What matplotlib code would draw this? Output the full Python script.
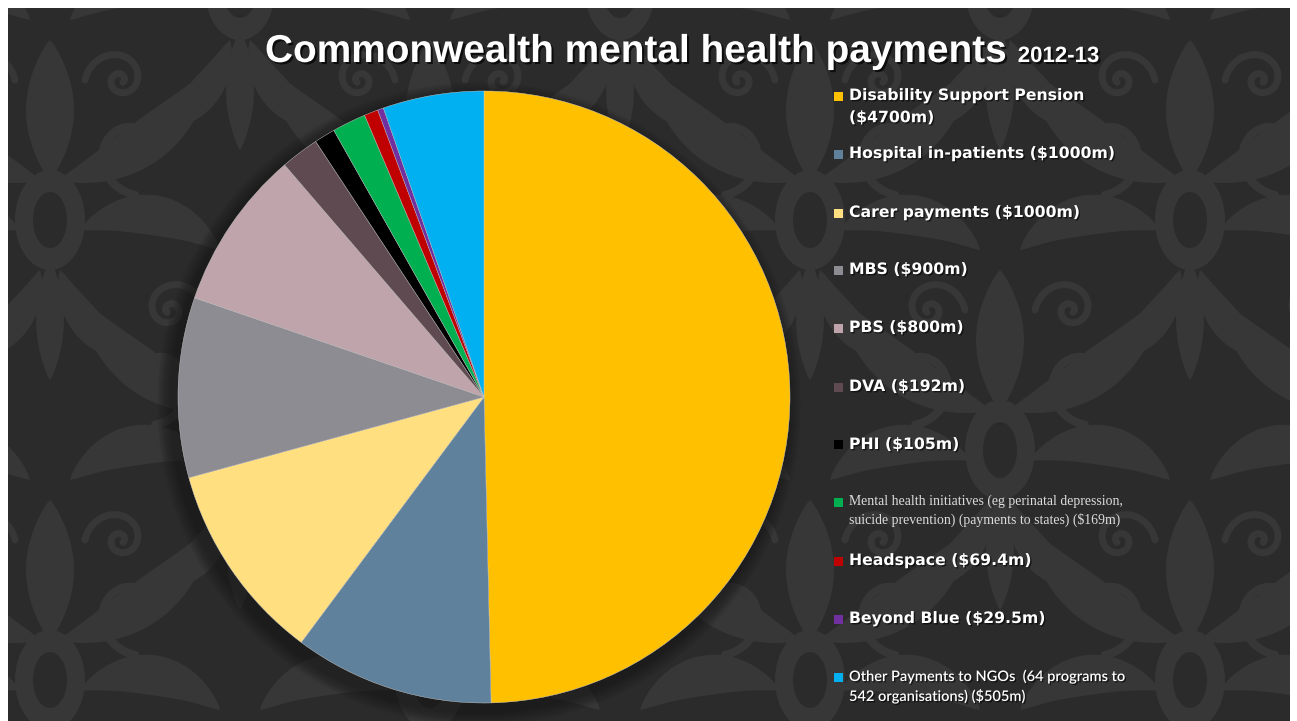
import numpy as np
import matplotlib
matplotlib.use("Agg")
import matplotlib.pyplot as plt
import matplotlib.patheffects as pe
from matplotlib.patches import Rectangle, Polygon, Ellipse, Circle

W, H = 1297, 721

# Payment categories (millions of dollars), clockwise from 12 o'clock
categories = [
    "Disability Support Pension",
    "Hospital in-patients",
    "Carer payments",
    "MBS",
    "PBS",
    "DVA",
    "PHI",
    "Mental health initiatives",
    "Headspace",
    "Beyond Blue",
    "Other Payments to NGOs",
]
values = [4700, 1000, 1000, 900, 800, 192, 105, 169, 69.4, 29.5, 505]
legend_labels = [
    "Disability Support Pension\n($4700m)",
    "Hospital in-patients ($1000m)",
    "Carer payments ($1000m)",
    "MBS ($900m)",
    "PBS ($800m)",
    "DVA ($192m)",
    "PHI ($105m)",
    "Mental health initiatives (eg perinatal depression,\nsuicide prevention) (payments to states) ($169m)",
    "Headspace ($69.4m)",
    "Beyond Blue ($29.5m)",
    "Other Payments to NGOs  (64 programs to\n542 organisations) ($505m)",
]
colors = ["#FFC000", "#5F819C", "#FFDF80", "#8E8C93", "#BFA4AB", "#604A51",
          "#000000", "#00B050", "#C00000", "#7030A0", "#00B0F0"]

BG = "#2b2b2b"
MOTIF = "#373737"


def fx(x):
    return x / W


def fy(y):
    return 1 - y / H


fig = plt.figure(figsize=(W / 100, H / 100), dpi=100)
fig.patch.set_facecolor("white")

# ---- background panel with a damask-like ornament ----
bg = fig.add_axes([0, 0, 1, 1])
bg.set_xlim(0, W)
bg.set_ylim(H, 0)
bg.axis("off")
bg.add_patch(Rectangle((8, 8), W - 15, H - 8, facecolor=BG, edgecolor="none", zorder=0))


def leaf(ax, base, tip, width, bend, color=MOTIF):
    base = np.asarray(base, float)
    tip = np.asarray(tip, float)
    d = tip - base
    n = np.array([-d[1], d[0]]) / (np.hypot(*d) + 1e-9)
    ctrl = (base + tip) / 2 + n * bend
    t = np.linspace(0, 1, 40)[:, None]
    c = (1 - t) ** 2 * base + 2 * (1 - t) * t * ctrl + t ** 2 * tip
    tang = 2 * (1 - t) * (ctrl - base) + 2 * t * (tip - ctrl)
    nn = np.stack([-tang[:, 1], tang[:, 0]], 1)
    nn /= np.linalg.norm(nn, axis=1)[:, None] + 1e-9
    w = width * np.sin(np.pi * t[:, 0]) ** 0.8
    left = c + nn * w[:, None]
    right = c - nn * w[:, None]
    pts = np.vstack([left, right[::-1]])
    ax.add_patch(Polygon(pts, closed=True, facecolor=color, edgecolor="none", zorder=1))


def scroll(ax, cx, cy, r0, sign, rot, color=MOTIF, lw=6):
    th = np.linspace(0, 3.2 * np.pi, 200)
    r = r0 * np.exp(-0.22 * th)
    x = r * np.cos(sign * th + rot)
    y = r * np.sin(sign * th + rot)
    ax.plot(cx + x, cy + y, color=color, lw=lw, solid_capstyle="round", zorder=1)


def motif(ax, cx, cy, s=1.0):
    ax.add_patch(Ellipse((cx, cy + 30 * s), 70 * s, 100 * s, facecolor=MOTIF,
                         edgecolor="none", zorder=1))
    ax.add_patch(Ellipse((cx, cy + 30 * s), 34 * s, 56 * s, facecolor=BG,
                         edgecolor="none", zorder=1))
    leaf(ax, (cx, cy - 10 * s), (cx, cy - 150 * s), 24 * s, 0)
    for sg in (-1, 1):
        leaf(ax, (cx + sg * 10 * s, cy - 10 * s), (cx + sg * 160 * s, cy - 120 * s), 22 * s, sg * 40 * s)
        leaf(ax, (cx + sg * 30 * s, cy + 40 * s), (cx + sg * 170 * s, cy + 60 * s), 20 * s, -sg * 50 * s)
        leaf(ax, (cx + sg * 10 * s, cy + 80 * s), (cx + sg * 90 * s, cy + 170 * s), 16 * s, sg * 30 * s)
        scroll(ax, cx + sg * 85 * s, cy - 40 * s, 45 * s, sg, np.pi / 2, lw=6 * s)
        scroll(ax, cx + sg * 120 * s, cy + 120 * s, 35 * s, -sg, 0 if sg > 0 else np.pi, lw=5 * s)
    leaf(ax, (cx, cy + 70 * s), (cx, cy + 190 * s), 14 * s, 0)


for row, yy in enumerate(np.arange(-40, H + 250, 230)):
    off = 0 if row % 2 == 0 else 190
    for xx in np.arange(-140 + off, W + 220, 380):
        motif(bg, xx, yy, 1.0)

# white frame over any ornament overflow
bg.add_patch(Rectangle((0, 0), W, 8, facecolor="white", edgecolor="none", zorder=2))
bg.add_patch(Rectangle((0, 0), 8, H, facecolor="white", edgecolor="none", zorder=2))
bg.add_patch(Rectangle((W - 7, 0), 7, H, facecolor="white", edgecolor="none", zorder=2))

# soft shadow beneath the pie
cxp, cyp, R = 484, 397, 306
for k in range(14):
    bg.add_patch(Circle((cxp - 5, cyp + 7), R + 16 - k, facecolor="#1c1c1c",
                        edgecolor="none", alpha=0.07, zorder=3))

# ---- pie ----
pax = fig.add_axes([fx(cxp - R), fy(cyp + R), 2 * R / W, 2 * R / H])
pax.pie(values, colors=colors, startangle=90, counterclock=False,
        wedgeprops=dict(edgecolor="#cfcfcf", linewidth=0.3))
pax.set_xlim(-1, 1)
pax.set_ylim(-1, 1)
pax.set_aspect("equal")

# ---- title ----
shadow = [pe.withSimplePatchShadow(offset=(1.5, -1.5), shadow_rgbFace="black", alpha=0.7)]
t1 = fig.text(fx(265), fy(62), "Commonwealth mental health payments", color="white",
              fontsize=26, fontweight="bold", family="Liberation Sans",
              ha="left", va="baseline", path_effects=shadow)
renderer = fig.canvas.get_renderer()
w1 = t1.get_window_extent(renderer).width
t1.set_fontsize(26 * 742 / w1)
x_end = t1.get_window_extent(renderer).x1
fig.text(x_end / W + 12 / W, fy(62), "2012-13", color="white", fontsize=16, fontweight="bold",
         family="Liberation Sans", ha="left", va="baseline", path_effects=shadow)

# ---- legend ----
ys = [96, 154, 213, 270, 328, 387, 445, 502, 561, 619, 677]
txt_shadow = [pe.withSimplePatchShadow(offset=(1, -1), shadow_rgbFace="black", alpha=0.6)]
for i, (lab, col, y) in enumerate(zip(legend_labels, colors, ys)):
    fig.patches.append(Rectangle((fx(834), fy(y + 4.5)), 9 / W, 9 / H, transform=fig.transFigure,
                                 facecolor=col, edgecolor="none", figure=fig))
    if i == 7:
        fig.text(fx(849), fy(y - 7), lab, color="#dddddd", fontsize=9.9,
                 family="Liberation Serif", ha="left", va="top", linespacing=1.35)
    elif i == 10:
        fig.text(fx(849), fy(y - 8), lab, color="white", fontsize=10.5, fontweight="semibold",
                 family="Lato", ha="left", va="top", linespacing=1.3, path_effects=txt_shadow)
    else:
        fig.text(fx(849), fy(y - 8), lab, color="white", fontsize=11.3, fontweight="bold",
                 family="DejaVu Sans", ha="left", va="top", linespacing=1.6,
                 path_effects=txt_shadow)

fig.savefig("out.png", dpi=100, facecolor=fig.get_facecolor())
